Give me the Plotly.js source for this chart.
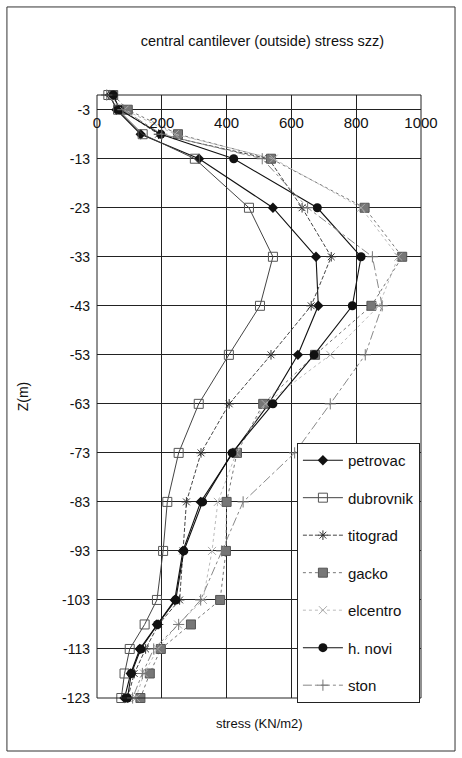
<!DOCTYPE html>
<html>
<head>
<meta charset="utf-8">
<script src="https://cdn.plot.ly/plotly-3.0.1.min.js"></script>
<style>html,body{margin:0;padding:0;background:#fff;}#chart{width:462px;height:758px;}</style>
</head>
<body>
<div id="chart"></div>
<script>
const depth = [0, -3, -8, -13, -23, -33, -43, -53, -63, -73, -83, -93, -103, -108, -113, -118, -123];
const petrovac  = [40, 60, 135, 315, 543, 676, 683, 620, 530, 419, 320, 265, 240, 185, 132, 104, 85];
const dubrovnik = [35, 65, 141, 302, 469, 543, 503, 407, 314, 252, 217, 204, 185, 147, 101, 85, 75];
const titograd  = [45, 75, 190, 530, 633, 723, 661, 537, 408, 321, 276, 265, 255, 190, 150, 115, 95];
const gacko     = [50, 95, 250, 537, 826, 942, 847, 673, 513, 432, 400, 398, 380, 290, 197, 163, 134];
const elcentro  = [40, 85, 240, 545, 815, 930, 870, 720, 520, 430, 373, 355, 327, 250, 187, 145, 120];
const hnovi     = [50, 70, 197, 422, 680, 815, 788, 670, 543, 417, 326, 268, 243, 187, 135, 106, 94];
const ston      = [30, 80, 200, 510, 650, 850, 880, 828, 720, 610, 451, 385, 320, 252, 175, 140, 110];
const yTicks = [-3, -13, -23, -33, -43, -53, -63, -73, -83, -93, -103, -113, -123];
const xTicks = [0, 200, 400, 600, 800, 1000];

const font = "Arial, 'Liberation Sans', sans-serif";
function tr(name, x, line, marker, group) {
  return {type: 'scatter', mode: 'lines+markers', name: name, x: x, y: depth,
    line: line, marker: marker, cliponaxis: false, legendgroup: group};
}
const data = [
  tr('petrovac', petrovac, {color: '#111', width: 1.1}, {symbol: 'diamond', size: 8, color: '#111'}, 'a'),
  tr('dubrovnik', dubrovnik, {color: '#444', width: 1}, {symbol: 'square-open', size: 9, color: '#555', line: {width: 1}}, 'b'),
  tr('titograd', titograd, {color: '#444', width: 1, dash: '4px,2px'}, {symbol: 'asterisk-open', size: 8, color: '#333', line: {width: 1, color: '#333'}}, 'c'),
  tr('gacko', gacko, {color: '#777', width: 1, dash: 'dot'}, {symbol: 'square', size: 9, color: '#777', line: {width: 1, color: '#555'}}, 'd'),
  tr('elcentro', elcentro, {color: '#bbb', width: 1, dash: 'dot'}, {symbol: 'x-thin-open', size: 8, color: '#aaa', line: {width: 1, color: '#aaa'}}, 'e'),
  tr('h. novi', hnovi, {color: '#111', width: 1.1}, {symbol: 'circle', size: 9, color: '#111'}, 'f'),
  tr('ston', ston, {color: '#888', width: 1, dash: 'dashdot'}, {symbol: 'cross-thin-open', size: 8, color: '#777', line: {width: 1, color: '#777'}}, 'g')
];

const layout = {
  width: 462, height: 758,
  margin: {l: 97, r: 41, t: 95, b: 60},
  paper_bgcolor: '#fff', plot_bgcolor: '#fff',
  font: {family: font, size: 13, color: '#111'},
  showlegend: true,
  title: {text: 'central cantilever (outside) stress szz)', font: {family: font, size: 14.5, color: '#111'},
    x: 0.568, xanchor: 'center', y: 0.946, yanchor: 'middle'},
  xaxis: {range: [0, 1000], tickvals: xTicks, ticktext: xTicks.map(String),
    showgrid: true, gridcolor: '#222', gridwidth: 1, zeroline: false,
    anchor: 'free', position: 120 / 123, side: 'bottom', ticklabelstandoff: 2,
    showline: false, ticks: '', tickfont: {size: 15, family: font, color: '#111'}},
  yaxis: {range: [-123, 0], tickvals: yTicks, ticktext: yTicks.map(String),
    showgrid: true, gridcolor: '#222', gridwidth: 1, zeroline: false, ticklabelstandoff: 6,
    showline: false, ticks: '', tickfont: {size: 14, family: font, color: '#111'},
    title: {text: 'Z(m)', font: {size: 14, family: font, color: '#111'}, standoff: 30}},
  legend: {x: 0.617, y: 0.423, xanchor: 'left', yanchor: 'top', bgcolor: '#fff',
    bordercolor: '#222', borderwidth: 1, font: {size: 15, family: font, color: '#111'},
    tracegroupgap: 15, itemwidth: 40},
  annotations: [{text: 'stress (KN/m2)', xref: 'paper', yref: 'paper', x: 0.5, y: -0.043,
    xanchor: 'center', yanchor: 'middle', showarrow: false, font: {size: 13, family: font, color: '#111'}}],
  shapes: [
    {type: 'rect', xref: 'paper', yref: 'paper', x0: 0, x1: 1, y0: 0, y1: 1, line: {color: '#222', width: 1}},
    {type: 'rect', xref: 'paper', yref: 'paper', x0: -0.278, x1: 1.105, y0: -0.0879, y1: 1.146, line: {color: '#333', width: 1}}
  ]
};
Plotly.newPlot('chart', data, layout, {displayModeBar: false, staticPlot: true});
</script>
</body>
</html>
